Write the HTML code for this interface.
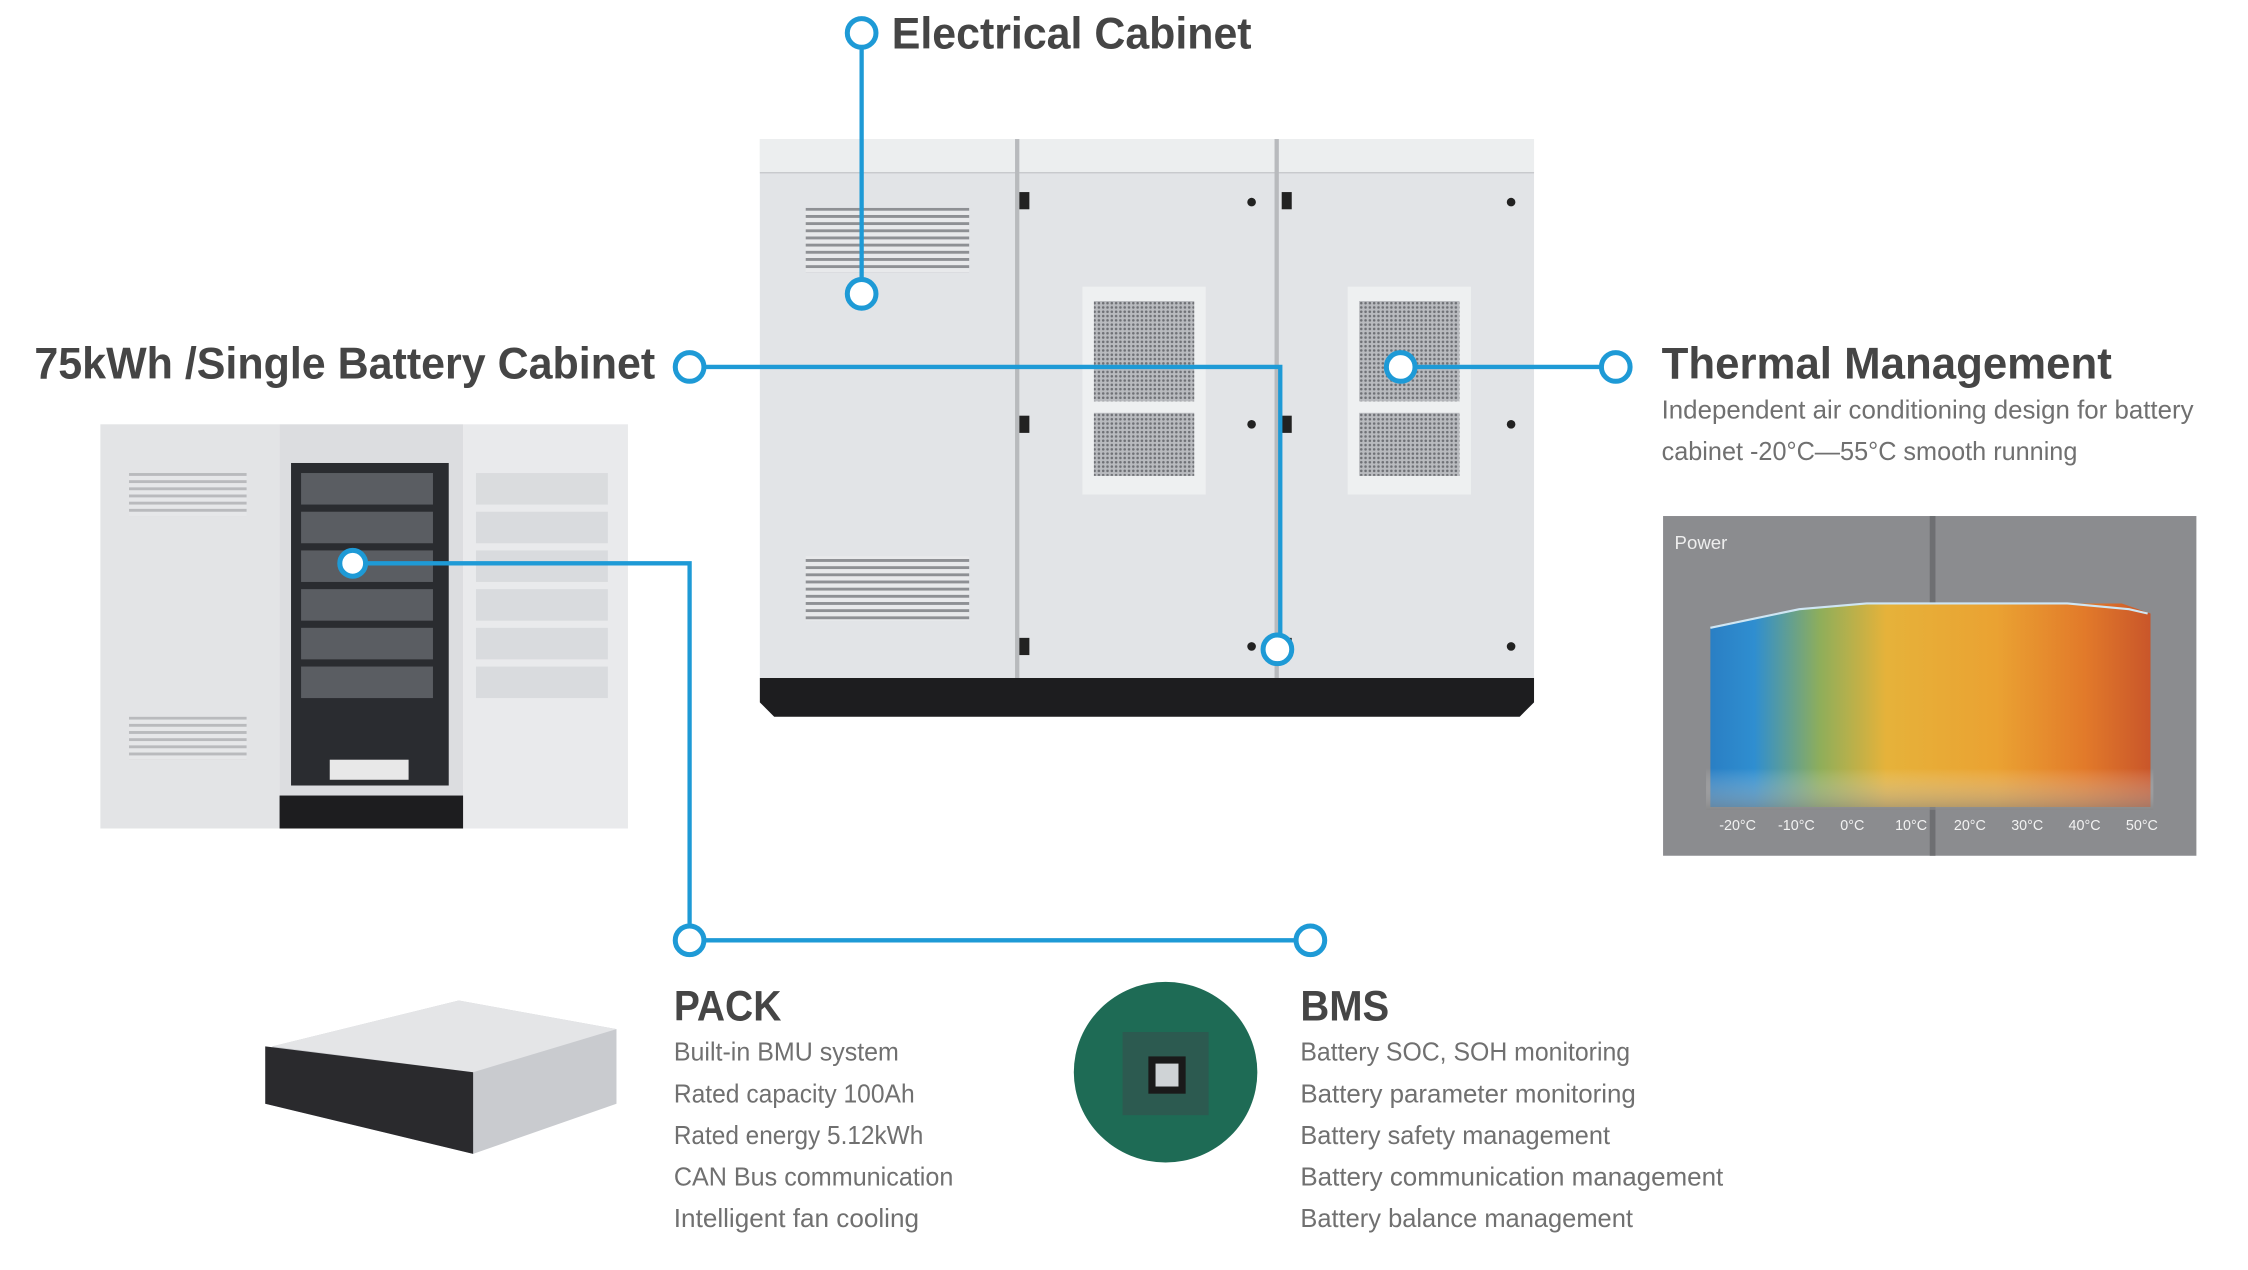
<!DOCTYPE html>
<html><head><meta charset="utf-8"><style>
html,body{margin:0;padding:0;background:#fff;overflow:hidden}
svg{display:block}
text{font-family:"Liberation Sans",sans-serif}
</style></head><body>
<svg width="2248" height="1270" viewBox="0 0 1568 886" preserveAspectRatio="none" xmlns="http://www.w3.org/2000/svg">
<defs>
<linearGradient id="heat" x1="0" x2="1" y1="0" y2="0">
<stop offset="0" stop-color="#2a7fc4"/><stop offset="0.1" stop-color="#2f8ed0"/>
<stop offset="0.25" stop-color="#8fae5a"/><stop offset="0.4" stop-color="#e6b23a"/>
<stop offset="0.65" stop-color="#eaa232"/><stop offset="0.85" stop-color="#e27a2a"/>
<stop offset="1" stop-color="#c9562a"/></linearGradient>
<linearGradient id="fade" x1="0" x2="0" y1="0" y2="1">
<stop offset="0" stop-color="#fff" stop-opacity="0"/><stop offset="0.8" stop-color="#fff" stop-opacity="0"/><stop offset="1" stop-color="#888" stop-opacity="0.6"/></linearGradient>
<pattern id="vent" width="4" height="5" patternUnits="userSpaceOnUse"><rect width="4" height="5" fill="#e8e9eb"/><rect y="0" width="4" height="2" fill="#8e9094"/></pattern>
<pattern id="mesh" width="3" height="3" patternUnits="userSpaceOnUse"><rect width="3" height="3" fill="#b9bbbf"/><circle cx="1.5" cy="1.5" r="0.9" fill="#6f7176"/></pattern>
</defs>

<!-- main cabinet -->
<rect x="530" y="97" width="540" height="378" fill="#e2e4e7"/>
<rect x="530" y="97" width="540" height="24" fill="#eceeef"/>
<rect x="530" y="120" width="540" height="1" fill="#c8cacd"/>
<rect x="708" y="97" width="3" height="378" fill="#b8babd"/>
<rect x="889" y="97" width="3" height="378" fill="#b8babd"/>
<rect x="562" y="145" width="114" height="45" fill="url(#vent)"/>
<rect x="562" y="388" width="114" height="45" fill="url(#vent)"/>
<rect x="755" y="200" width="86" height="145" fill="#eef0f1"/>
<rect x="763" y="210" width="70" height="70" fill="url(#mesh)"/>
<rect x="763" y="288" width="70" height="44" fill="url(#mesh)"/>
<rect x="940" y="200" width="86" height="145" fill="#eef0f1"/>
<rect x="948" y="210" width="70" height="70" fill="url(#mesh)"/>
<rect x="948" y="288" width="70" height="44" fill="url(#mesh)"/>
<g fill="#222"><rect x="711" y="134" width="7" height="12"/><rect x="711" y="290" width="7" height="12"/><rect x="711" y="445" width="7" height="12"/>
<rect x="894" y="134" width="7" height="12"/><rect x="894" y="290" width="7" height="12"/><rect x="894" y="445" width="7" height="12"/>
<circle cx="873" cy="141" r="3"/><circle cx="873" cy="296" r="3"/><circle cx="873" cy="451" r="3"/>
<circle cx="1054" cy="141" r="3"/><circle cx="1054" cy="296" r="3"/><circle cx="1054" cy="451" r="3"/></g>
<path d="M530 473 H1070 V490 L1060 500 H540 L530 490 Z" fill="#1d1d1f"/>

<!-- battery cabinet left -->
<rect x="70" y="296" width="125" height="282" fill="#e3e4e6"/>
<rect x="323" y="296" width="115" height="282" fill="#e9eaec"/>
<rect x="195" y="296" width="128" height="282" fill="#dcdde0"/>
<rect x="203" y="323" width="110" height="225" fill="#2a2c30"/>
<g fill="#5a5d62"><rect x="210" y="330" width="92" height="22"/><rect x="210" y="357" width="92" height="22"/><rect x="210" y="384" width="92" height="22"/><rect x="210" y="411" width="92" height="22"/><rect x="210" y="438" width="92" height="22"/><rect x="210" y="465" width="92" height="22"/></g>
<rect x="230" y="530" width="55" height="14" fill="#e8e8e8"/>
<rect x="195" y="555" width="128" height="23" fill="#1d1d1f"/>
<rect x="90" y="330" width="82" height="30" fill="url(#vent)" opacity="0.5"/>
<rect x="90" y="500" width="82" height="30" fill="url(#vent)" opacity="0.5"/>
<g fill="#d0d2d5" opacity="0.6"><rect x="332" y="330" width="92" height="22"/><rect x="332" y="357" width="92" height="22"/><rect x="332" y="384" width="92" height="22"/><rect x="332" y="411" width="92" height="22"/><rect x="332" y="438" width="92" height="22"/><rect x="332" y="465" width="92" height="22"/></g>

<!-- chart -->
<rect x="1160" y="360" width="372" height="237" fill="#8b8c8f"/>
<rect x="1346" y="360" width="4" height="237" fill="#6e6f72"/>
<path d="M1193 438 L1255 425 L1302 421 L1480 421 L1500 428 V563 H1193 Z" fill="url(#heat)"/>
<rect x="1190" y="420" width="312" height="145" fill="url(#fade)"/>
<polyline points="1193,438 1255,425 1302,421 1350,421 1398,421 1442,421 1485,425 1498,428" fill="none" stroke="#cfe6f3" stroke-width="1.5"/>
<text x="1168" y="383" font-size="13" fill="#eee">Power</text>
<g font-size="10" fill="#f2f2f2" text-anchor="middle"><text x="1212" y="579">-20°C</text><text x="1253" y="579">-10°C</text><text x="1292" y="579">0°C</text><text x="1333" y="579">10°C</text><text x="1374" y="579">20°C</text><text x="1414" y="579">30°C</text><text x="1454" y="579">40°C</text><text x="1494" y="579">50°C</text></g>

<!-- pack -->
<path d="M190 730 L320 698 L430 718 L430 770 L330 805 L185 770 Z" fill="#c9cbcf"/>
<path d="M190 730 L320 698 L430 718 L330 748 Z" fill="#e4e5e7"/>
<path d="M185 730 L330 748 L330 805 L185 770 Z" fill="#2a2a2d"/>

<!-- BMS chip -->
<ellipse cx="813" cy="748" rx="64" ry="63" fill="#1e6b55"/>
<rect x="783" y="720" width="60" height="58" fill="#2c5a50"/>
<rect x="801" y="737" width="26" height="26" fill="#1a1a1a"/>
<rect x="806" y="742" width="16" height="16" fill="#cfd3d6"/>

<!-- connectors -->
<g stroke="#1e9ad6" stroke-width="3" fill="none">
<line x1="601" y1="33" x2="601" y2="195"/>
<polyline points="491,256 893,256 893,443"/>
<line x1="987" y1="256" x2="1117" y2="256"/>
<polyline points="256,393 481,393 481,646"/>
<line x1="491" y1="656" x2="904" y2="656"/>
</g>
<g stroke="#1e9ad6" stroke-width="3.5" fill="#fff">
<circle cx="601" cy="23" r="10"/><circle cx="601" cy="205" r="10"/>
<circle cx="481" cy="256" r="10"/><circle cx="891" cy="453" r="10"/>
<circle cx="977" cy="256" r="10"/><circle cx="1127" cy="256" r="10"/>
<circle cx="246" cy="393" r="9"/><circle cx="481" cy="656" r="10"/><circle cx="914" cy="656" r="10"/>
</g>

<!-- text -->
<g fill="#454545" font-weight="bold">
<text x="622" y="34" font-size="31" textLength="251" lengthAdjust="spacingAndGlyphs">Electrical Cabinet</text>
<text x="24" y="264" font-size="31" textLength="433" lengthAdjust="spacingAndGlyphs">75kWh /Single Battery Cabinet</text>
<text x="1159" y="264" font-size="31" textLength="314" lengthAdjust="spacingAndGlyphs">Thermal Management</text>
<text x="470" y="712" font-size="30" textLength="75" lengthAdjust="spacingAndGlyphs">PACK</text>
<text x="907" y="712" font-size="30" textLength="62" lengthAdjust="spacingAndGlyphs">BMS</text>
</g>
<g fill="#707070" font-size="18">
<text x="1159" y="292" textLength="371" lengthAdjust="spacingAndGlyphs">Independent air conditioning design for battery</text>
<text x="1159" y="321" textLength="290" lengthAdjust="spacingAndGlyphs">cabinet  -20°C—55°C smooth running</text>
<text x="470" y="740" textLength="157" lengthAdjust="spacingAndGlyphs">Built-in BMU system</text>
<text x="470" y="769" textLength="168" lengthAdjust="spacingAndGlyphs">Rated capacity 100Ah</text>
<text x="470" y="798" textLength="174" lengthAdjust="spacingAndGlyphs">Rated energy 5.12kWh</text>
<text x="470" y="827" textLength="195" lengthAdjust="spacingAndGlyphs">CAN Bus communication</text>
<text x="470" y="856" textLength="171" lengthAdjust="spacingAndGlyphs">Intelligent fan cooling</text>
<text x="907" y="740" textLength="230" lengthAdjust="spacingAndGlyphs">Battery SOC, SOH monitoring</text>
<text x="907" y="769" textLength="234" lengthAdjust="spacingAndGlyphs">Battery parameter monitoring</text>
<text x="907" y="798" textLength="216" lengthAdjust="spacingAndGlyphs">Battery safety management</text>
<text x="907" y="827" textLength="295" lengthAdjust="spacingAndGlyphs">Battery communication management</text>
<text x="907" y="856" textLength="232" lengthAdjust="spacingAndGlyphs">Battery balance management</text>
</g>
</svg>
</body></html>
